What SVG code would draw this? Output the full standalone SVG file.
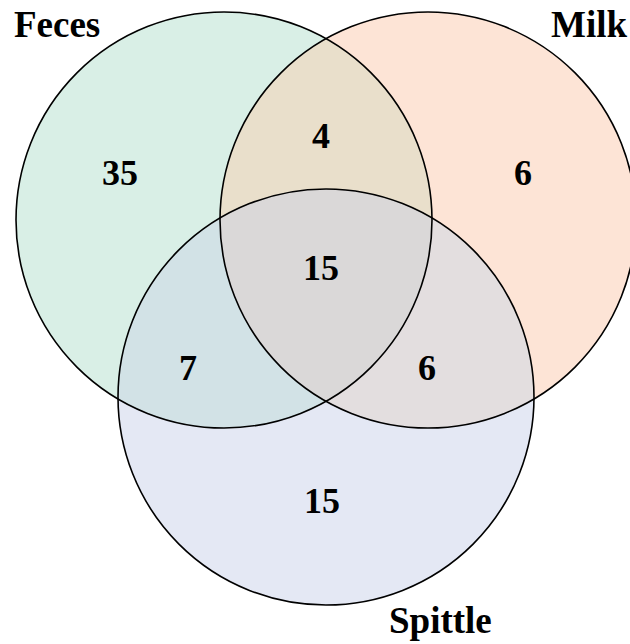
<svg xmlns="http://www.w3.org/2000/svg" width="630" height="644" viewBox="0 0 630 644">
<style>
.lbl{font-family:"Liberation Serif","Times New Roman",serif;font-weight:bold;font-size:37px;fill:#000}
.num{font-family:"Liberation Serif","Times New Roman",serif;font-weight:bold;font-size:36px;fill:#000;text-anchor:middle}
.edge{fill:none;stroke:#000;stroke-width:1.6}
</style>
<defs>
<circle id="cF" cx="224" cy="220" r="208"/>
<circle id="cM" cx="428" cy="220" r="208"/>
<circle id="cS" cx="326" cy="397" r="208"/>
<clipPath id="clipF"><use href="#cF"/></clipPath>
<clipPath id="clipM"><use href="#cM"/></clipPath>
</defs>
<rect width="630" height="644" fill="#fff"/>
<g id="fills">
<use href="#cF" fill="#d9efe6"/>
<use href="#cM" fill="#fde4d6"/>
<use href="#cS" fill="#e4e8f4"/>
<use href="#cM" fill="#e9dfcb" clip-path="url(#clipF)"/>
<use href="#cS" fill="#d2e2e6" clip-path="url(#clipF)"/>
<use href="#cS" fill="#e3dedf" clip-path="url(#clipM)"/>
<g clip-path="url(#clipF)"><use href="#cS" fill="#dad8d8" clip-path="url(#clipM)"/></g>
</g>
<g id="feces"><use href="#cF" class="edge"/><text class="lbl" x="14" y="37">Feces</text></g>
<g id="milk"><use href="#cM" class="edge"/><text class="lbl" x="551" y="37">Milk</text></g>
<g id="spittle"><use href="#cS" class="edge"/><text class="lbl" x="389" y="633">Spittle</text></g>
<g id="counts">
<text class="num" x="120" y="185">35</text>
<text class="num" x="321" y="148">4</text>
<text class="num" x="523" y="185">6</text>
<text class="num" x="321" y="280">15</text>
<text class="num" x="188" y="380">7</text>
<text class="num" x="427" y="380">6</text>
<text class="num" x="322" y="513">15</text>
</g>
<g id="connectors"/>
</svg>
